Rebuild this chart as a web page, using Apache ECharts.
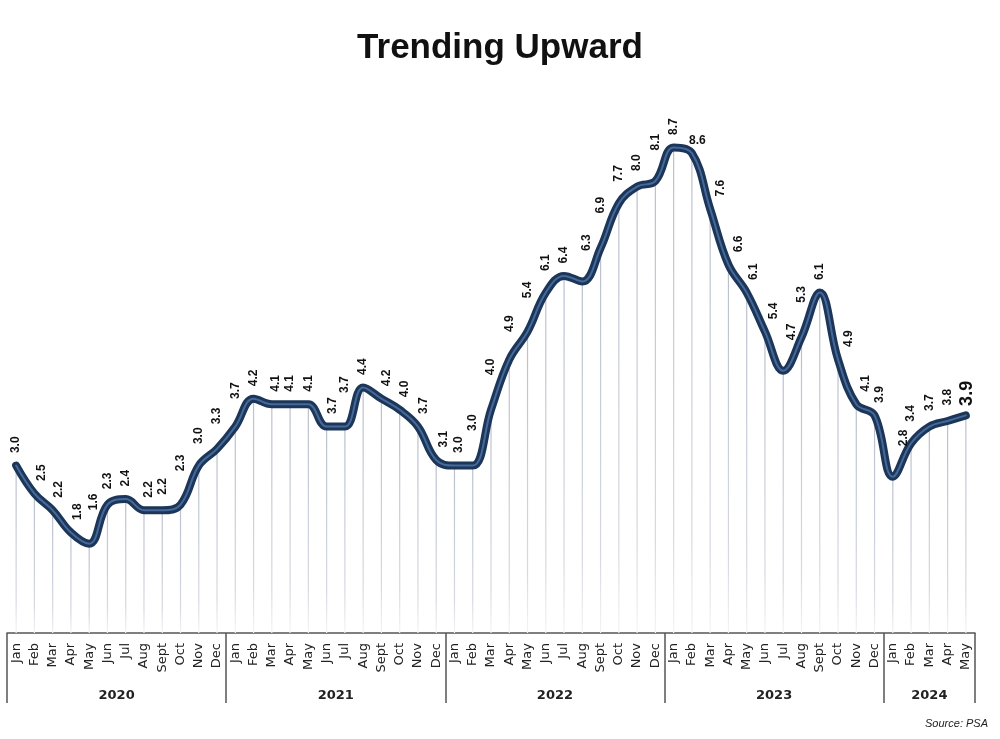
<!DOCTYPE html>
<html>
<head>
<meta charset="utf-8">
<script src="https://cdn.jsdelivr.net/npm/echarts@6/dist/echarts.min.js"></script>
<style>html,body{margin:0;padding:0;background:#fff}#c{width:1000px;height:739px}</style>
</head>
<body>
<div id="c"></div>
<script>
const years = ['2020', '2021', '2022', '2023', '2024'];
const monthsPerYear = [12, 12, 12, 12, 5];
const categories = [
  'Jan','Feb','Mar','Apr','May','Jun','Jul','Aug','Sept','Oct','Nov','Dec',
  'Jan','Feb','Mar','Apr','May','Jun','Jul','Aug','Sept','Oct','Nov','Dec',
  'Jan','Feb','Mar','Apr','May','Jun','Jul','Aug','Sept','Oct','Nov','Dec',
  'Jan','Feb','Mar','Apr','May','Jun','Jul','Aug','Sept','Oct','Nov','Dec',
  'Jan','Feb','Mar','Apr','May'
];
const inflation = [
  3.0, 2.5, 2.2, 1.8, 1.6, 2.3, 2.4, 2.2, 2.2, 2.3, 3.0, 3.3,
  3.7, 4.2, 4.1, 4.1, 4.1, 3.7, 3.7, 4.4, 4.2, 4.0, 3.7, 3.1,
  3.0, 3.0, 4.0, 4.9, 5.4, 6.1, 6.4, 6.3, 6.9, 7.7, 8.0, 8.1,
  8.7, 8.6, 7.6, 6.6, 6.1, 5.4, 4.7, 5.3, 6.1, 4.9, 4.1, 3.9,
  2.8, 3.4, 3.7, 3.8, 3.9
];

// year boundaries / mid points derived from month counts
const boundaries = [0];
monthsPerYear.forEach(n => boundaries.push(boundaries[boundaries.length - 1] + n));
const mids = monthsPerYear.map((n, i) => boundaries[i] + n / 2);
const total = boundaries[boundaries.length - 1];

const chart = echarts.init(document.getElementById('c'), null, {renderer: 'canvas'});

// label placement: nudge labels away from the thick line
const peak = Math.max.apply(null, inflation);
const labelData = inflation.map((v, i) => {
  const prev = i > 0 ? inflation[i - 1] : v;
  const next = i < inflation.length - 1 ? inflation[i + 1] : v;
  const drop = Math.max(0, prev - v);
  const dx = drop > 0 ? 4 + Math.min(7, drop * 7) : 0.5;
  const rise = Math.max(0, next - v);
  const dist = 12 + Math.min(22, rise * 30);
  const item = {value: v, label: {position: [dx, -dist]}};
  if (v === peak) {
    item.label = {position: [0.5, -12]};
  }
  if (i > 0 && inflation[i - 1] === peak) {
    item.label = {position: [6, -6], rotate: 0, align: 'center', verticalAlign: 'bottom'};
  }
  if (i === inflation.length - 1) {
    item.label = {fontSize: 18, position: [2, -9]};
  }
  return item;
});

const option = {
  backgroundColor: '#ffffff',
  animation: false,
  title: {
    text: 'Trending Upward',
    left: 'center',
    top: 26,
    textStyle: {
      fontFamily: '"Liberation Sans Narrow", "Liberation Sans", Arial, sans-serif',
      fontWeight: 'bold',
      fontSize: 35,
      color: '#111'
    }
  },
  graphic: [{
    type: 'text',
    right: 12,
    bottom: 10,
    style: {
      text: 'Source: PSA',
      font: 'italic 11px "Liberation Sans", Arial, sans-serif',
      fill: '#222'
    }
  }],
  grid: {left: 7, right: 25, top: 75, bottom: 106, containLabel: false},
  xAxis: [{
    type: 'category',
    data: categories,
    boundaryGap: true,
    axisLine: {show: true, lineStyle: {color: '#555', width: 1.5}},
    axisTick: {show: false},
    axisLabel: {
      rotate: 90,
      interval: 0,
      margin: 10,
      fontFamily: '"DejaVu Sans", Verdana, sans-serif',
      fontSize: 13,
      color: '#222'
    },
    splitLine: {show: false}
  }, {
    type: 'value',
    position: 'bottom',
    min: 0,
    max: total,
    axisLine: {show: false},
    splitLine: {show: false},
    axisTick: {
      show: true,
      customValues: boundaries,
      length: 70,
      lineStyle: {color: '#555', width: 1.5}
    },
    axisLabel: {
      show: true,
      customValues: mids,
      margin: 56,
      formatter: function (v) {
        const idx = mids.indexOf(v);
        return idx >= 0 ? years[idx] : '';
      },
      fontFamily: '"DejaVu Sans", Verdana, sans-serif',
      fontWeight: 'bold',
      fontSize: 13,
      color: '#222'
    }
  }],
  yAxis: {
    type: 'value',
    min: 0,
    max: 10,
    show: false,
    splitLine: {show: false}
  },
  series: [{
    type: 'bar',
    xAxisIndex: 0,
    data: inflation,
    barWidth: 1.2,
    silent: true,
    itemStyle: {
      color: new echarts.graphic.LinearGradient(0, 0, 0, 1, [
        {offset: 0, color: '#b9bfcc'},
        {offset: 0.8, color: '#d6d9e0'},
        {offset: 1, color: '#f4f4f6'}
      ])
    },
    z: 1
  }, {
    type: 'line',
    xAxisIndex: 0,
    data: inflation,
    smooth: 0.4,
    showSymbol: false,
    symbol: 'none',
    lineStyle: {color: '#1b3658', width: 8, cap: 'round', join: 'round'},
    z: 2
  }, {
    type: 'line',
    xAxisIndex: 0,
    data: labelData,
    smooth: 0.4,
    showSymbol: true,
    symbol: 'rect',
    symbolSize: 1,
    itemStyle: {color: 'rgba(0,0,0,0)', borderWidth: 0},
    lineStyle: {color: '#46699a', width: 2, cap: 'round', join: 'round'},
    labelLayout: {hideOverlap: false},
    label: {
      show: true,
      position: 'top',
      rotate: 90,
      align: 'left',
      verticalAlign: 'middle',
      fontFamily: '"Liberation Sans", Arial, sans-serif',
      fontWeight: 'bold',
      fontSize: 12,
      color: '#111',
      formatter: p => Number(p.value).toFixed(1)
    },
    z: 3
  }]
};
chart.setOption(option);
</script>
</body>
</html>
